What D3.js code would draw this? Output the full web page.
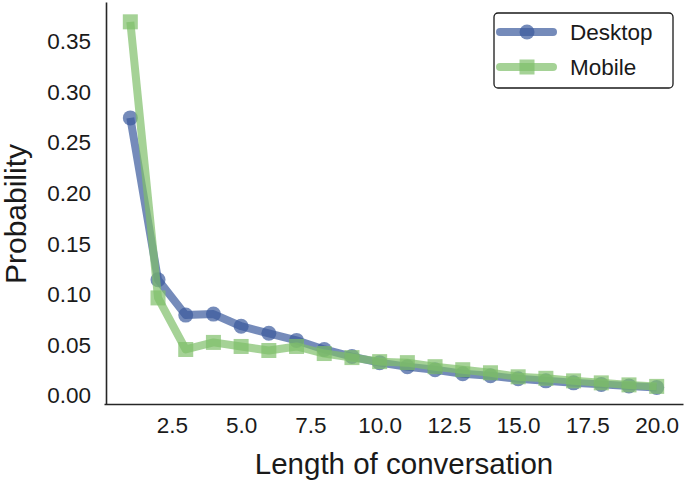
<!DOCTYPE html>
<html>
<head>
<meta charset="utf-8">
<script src="https://cdn.jsdelivr.net/npm/d3@7"></script>
<style>
  html, body { margin: 0; padding: 0; background: #fff; }
  svg { display: block; font-family: "Liberation Sans", Arial, Helvetica, sans-serif; }
</style>
</head>
<body>
<svg id="chart" width="685" height="482"></svg>
<script>
const lengths = [1,2,3,4,5,6,7,8,9,10,11,12,13,14,15,16,17,18,19,20];
const desktop = [0.275,0.115,0.080,0.081,0.069,0.062,0.055,0.046,0.039,0.033,0.029,0.026,0.022,0.020,0.017,0.015,0.013,0.0115,0.010,0.0085];
const mobile  = [0.370,0.097,0.046,0.053,0.049,0.045,0.049,0.042,0.038,0.034,0.033,0.029,0.026,0.023,0.019,0.0175,0.015,0.013,0.011,0.0095];
const seriesNames = ["Desktop", "Mobile"];
const xTicks = [2.5,5.0,7.5,10.0,12.5,15.0,17.5,20.0];
const yTicks = [0.00,0.05,0.10,0.15,0.20,0.25,0.30,0.35];
const xLabel = "Length of conversation";
const yLabel = "Probability";

const colors = {Desktop: "#3b5a9c", Mobile: "#7fbf6a"};
const alpha = 0.7;

const svg = d3.select("#chart");
const x = d3.scaleLinear().domain([0.05, 20.95]).range([104, 683]);
const y = d3.scaleLinear().domain([-0.0079, 0.3896]).range([404, 2]);

// axes
const xAxis = d3.axisBottom(x).tickValues(xTicks).tickFormat(d3.format(".1f")).tickSize(0).tickPadding(13);
const yAxis = d3.axisLeft(y).tickValues(yTicks).tickFormat(d3.format(".2f")).tickSize(0).tickPadding(15);

const gx = svg.append("g").attr("transform", `translate(0,404)`).call(xAxis);
const gy = svg.append("g").attr("transform", `translate(106,0)`).call(yAxis);
[gx, gy].forEach(g => {
  g.select(".domain").attr("stroke", "#262626").attr("stroke-width", 1.6);
  g.selectAll("text").attr("font-size", 22.5).attr("fill", "#1a1a1a")
    .attr("font-family", '"Liberation Sans", Arial, sans-serif');
});
gy.selectAll("text").attr("dy", "0.3em");
gx.selectAll("text").attr("dy", "0.7em");

svg.append("text").attr("x", 404).attr("y", 474).attr("text-anchor", "middle")
  .attr("font-size", 29.5).attr("fill", "#1a1a1a").text(xLabel);
svg.append("text").attr("transform", "translate(26,214) rotate(-90)").attr("text-anchor", "middle")
  .attr("font-size", 30).attr("fill", "#1a1a1a").text(yLabel);

const line = d3.line().x((d,i) => x(lengths[i])).y(d => y(d));

function drawSeries(name, vals, shape) {
  const c = colors[name];
  const g = svg.append("g");
  g.append("path").datum(vals).attr("d", line).attr("fill", "none")
    .attr("stroke", c).attr("stroke-opacity", alpha).attr("stroke-width", 8)
    .attr("stroke-linejoin", "round").attr("stroke-linecap", "butt");
  if (shape === "circle") {
    g.selectAll("circle").data(vals).join("circle")
      .attr("cx", (d,i) => x(lengths[i])).attr("cy", d => y(d)).attr("r", 7.5)
      .attr("fill", c).attr("fill-opacity", alpha);
  } else {
    const s = 15;
    g.selectAll("rect").data(vals).join("rect")
      .attr("x", (d,i) => x(lengths[i]) - s/2).attr("y", d => y(d) - s/2)
      .attr("width", s).attr("height", s)
      .attr("fill", c).attr("fill-opacity", alpha);
  }
}
drawSeries("Desktop", desktop, "circle");
drawSeries("Mobile", mobile, "square");

// legend
const lg = svg.append("g");
lg.append("rect").attr("x", 494).attr("y", 13).attr("width", 179).attr("height", 75)
  .attr("rx", 4).attr("fill", "#fff").attr("fill-opacity", 0.8).attr("stroke", "#1a1a1a").attr("stroke-width", 1.3);
seriesNames.forEach((name, i) => {
  const cy = 32 + i * 35;
  const c = colors[name];
  lg.append("line").attr("x1", 500).attr("x2", 553).attr("y1", cy).attr("y2", cy)
    .attr("stroke", c).attr("stroke-opacity", alpha).attr("stroke-width", 8).attr("stroke-linecap", "round");
  if (i === 0) {
    lg.append("circle").attr("cx", 527).attr("cy", cy).attr("r", 7.5).attr("fill", c).attr("fill-opacity", alpha);
  } else {
    lg.append("rect").attr("x", 527 - 7.5).attr("y", cy - 7.5).attr("width", 15).attr("height", 15)
      .attr("fill", c).attr("fill-opacity", alpha);
  }
  lg.append("text").attr("x", 570).attr("y", cy).attr("dy", "0.36em")
    .attr("font-size", 22.5).attr("fill", "#1a1a1a").text(name);
});
</script>
</body>
</html>
